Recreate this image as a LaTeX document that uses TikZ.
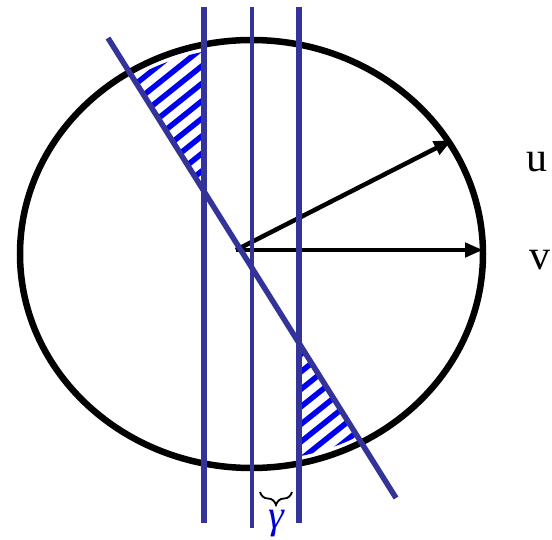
\documentclass[tikz,border=0pt]{standalone}
\usepackage{fontspec}
\setmainfont{Liberation Serif}
\usetikzlibrary{arrows.meta,decorations.pathreplacing}
\definecolor{lineblue}{RGB}{51,51,153}
\definecolor{hatchblue}{RGB}{0,0,240}
\definecolor{gammablue}{RGB}{0,0,210}
\tikzset{
  bluestroke/.style={draw=lineblue, line width=5.5pt},
  vecarrow/.style={draw=black, line width=4.5pt, -{Triangle[length=18pt,width=14pt]}},
  hatchline/.style={draw=hatchblue, line width=5.5pt},
  lbl/.style={font=\fontsize{42}{42}\selectfont, inner sep=0pt, anchor=base}
}
\begin{document}
\begin{tikzpicture}[x=1pt,y=-1pt]
\useasboundingbox (0,0) rectangle (552,540);
% named points
\coordinate (C) at (251.5,254);
\coordinate (O) at (236,250);
\coordinate (U) at (452,140);
\coordinate (V) at (483,250);
\coordinate (D1) at (108,38);
\coordinate (D2) at (396,498);
\coordinate (L1t) at (204,7);  \coordinate (L1b) at (204,523);
\coordinate (L2t) at (252,7);  \coordinate (L2b) at (252,528);
\coordinate (L3t) at (299,7);  \coordinate (L3b) at (299,523);
\coordinate (B1) at (260,492); \coordinate (B2) at (292,492);
% hatch top-left
\begin{scope}
  \clip (C) ellipse [x radius=225pt, y radius=207pt];
  \clip (84,0) -- (204,191) -- (204,0) -- cycle;
  \foreach \y in {0,17.5,...,720} \draw[hatchline] (0,\y) -- ++(500,-400);
\end{scope}
% hatch bottom-right
\begin{scope}
  \clip (C) ellipse [x radius=225pt, y radius=207pt];
  \clip (299,343) -- (420,536) -- (299,536) -- cycle;
  \foreach \y in {0,17.5,...,900} \draw[hatchline] (0,\y) -- ++(500,-400);
\end{scope}
% circle
\draw[line width=6.5pt] (C) ellipse [x radius=231.5pt, y radius=214pt];
% vectors
\draw[vecarrow] (O) -- (U);
\draw[vecarrow] (O) -- (V);
% blue lines
\draw[bluestroke] (L1t) -- (L1b);
\draw[bluestroke, line width=4.5pt] (L2t) -- (L2b);
\draw[bluestroke] (L3t) -- (L3b);
\draw[bluestroke] (D1) -- (D2);
% labels
\node[lbl] (ulabel) at (537,172) {u};
\node[lbl] (vlabel) at (540,270) {v};
% brace and gamma
\draw[line width=1.8pt, decorate, decoration={brace, amplitude=13pt, mirror}] (B1) -- (B2);
\node[text=gammablue, font=\fontsize{40}{40}\selectfont\itshape, inner sep=0pt] (gam) at (276,524) {γ};
\end{tikzpicture}
\end{document}
